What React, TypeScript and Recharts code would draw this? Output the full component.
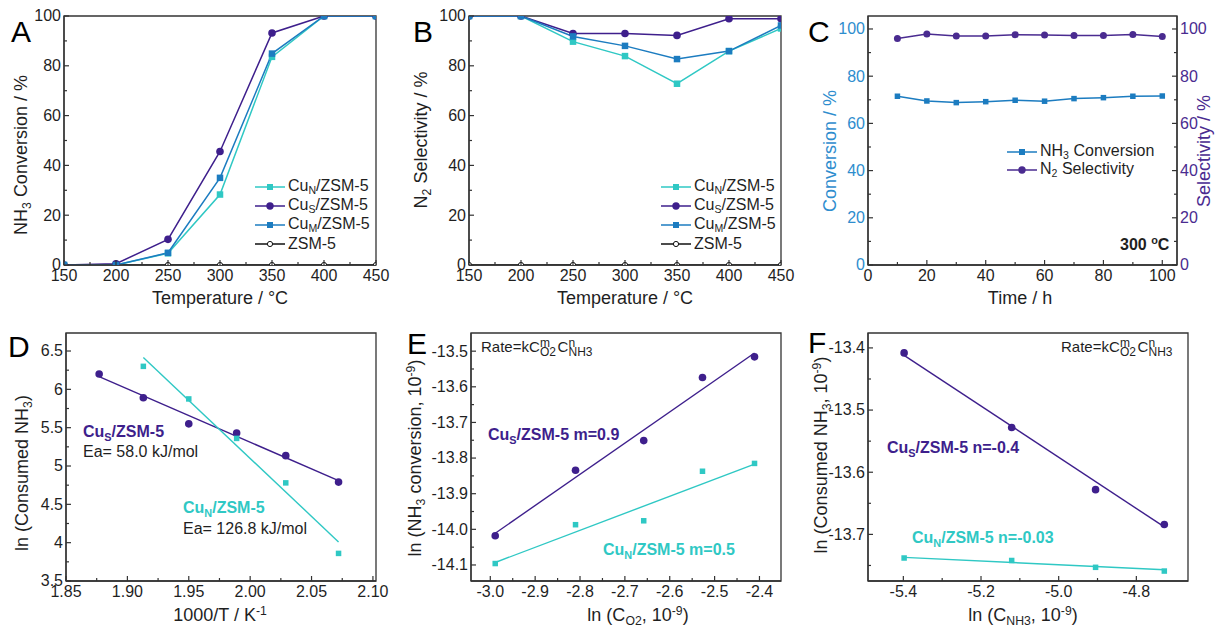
import React from "react";
import {
  LineChart,
  ComposedChart,
  Line,
  Scatter,
  XAxis,
  YAxis,
  ReferenceArea,
  Legend,
} from "recharts";

const FONT = '"Liberation Sans", Arial, Helvetica, sans-serif';
const INK = "#1f1f1f";
const AXIS = "#333333";
const TEAL = "#2FC8C4";
const PURPLE = "#3E1F8C";
const BLUE = "#1C7CC0";
const C_BLUE = "#2E8DCE";
const C_PURPLE = "#4A2B90";

// A / B: temperature sweep
const temperatures = [150, 200, 250, 300, 350, 400, 450];
const convCuN = [0, 0, 4.7, 28.3, 83.6, 100, 100];
const convCuS = [0, 0.5, 10.3, 45.6, 93.2, 100, 100];
const convCuM = [0, 0, 4.9, 35, 84.9, 100, 100];
const convZSM = [0, 0, 0, 0, 0, 0, 0];
const selCuN = [100, 100, 89.7, 83.9, 72.8, 85.9, 95.0];
const selCuS = [100, 100, 93.0, 93.0, 92.2, 98.9, 98.9];
const selCuM = [100, 100, 91.8, 88.0, 82.7, 85.9, 96.2];
const selZSM = [0, 0, 0, 0, 0, 0, 0];
const tempTicks = [150, 200, 250, 300, 350, 400, 450];
const pctTicks = [0, 20, 40, 60, 80, 100];

// C: stability test at 300 °C
const hours = [10, 20, 30, 40, 50, 60, 70, 80, 90, 100];
const stabConv = [71.5, 69.5, 68.8, 69.2, 69.8, 69.4, 70.5, 70.9, 71.5, 71.6];
const stabSel = [96.0, 97.9, 97.0, 97.0, 97.6, 97.5, 97.2, 97.2, 97.7, 96.8];
const hourTicks = [0, 20, 40, 60, 80, 100];

// D: Arrhenius plot
const invTCuS = [1.877, 1.913, 1.95, 1.989, 2.029, 2.072];
const lnCuS = [6.2, 5.89, 5.55, 5.43, 5.135, 4.79];
const invTCuN = [1.913, 1.95, 1.989, 2.029, 2.072];
const lnCuN = [6.3, 5.875, 5.36, 4.78, 3.86];
const fitInvTCuS = [1.877, 2.072];
const fitLnCuS = [6.165, 4.81];
const fitInvTCuN = [1.913, 2.072];
const fitLnCuN = [6.415, 4.01];
const invTTicks = [1.85, 1.9, 1.95, 2.0, 2.05, 2.1];
const lnTicks = [3.5, 4, 4.5, 5, 5.5, 6, 6.5];

// E: O2 reaction order
const lnO2 = [-2.989, -2.81, -2.658, -2.527, -2.411];
const o2CuS = [-14.018, -13.834, -13.751, -13.574, -13.516];
const o2CuN = [-14.096, -13.987, -13.976, -13.837, -13.815];
const o2FitX = [-2.989, -2.411];
const o2FitCuS = [-14.011, -13.505];
const o2FitCuN = [-14.093, -13.817];
const o2Ticks = [-3.0, -2.9, -2.8, -2.7, -2.6, -2.5, -2.4];
const o2RateTicks = [-14.1, -14.0, -13.9, -13.8, -13.7, -13.6, -13.5];

// F: NH3 reaction order
const lnNH3 = [-5.398, -5.121, -4.905, -4.728];
const nh3CuS = [-13.408, -13.528, -13.628, -13.684];
const nh3CuN = [-13.738, -13.742, -13.753, -13.759];
const nh3FitX = [-5.398, -4.728];
const nh3FitCuS = [-13.412, -13.688];
const nh3FitCuN = [-13.737, -13.757];
const nh3Ticks = [-5.4, -5.2, -5.0, -4.8];
const nh3RateTicks = [-13.7, -13.6, -13.5, -13.4];

const pts = (xs: number[], ys: number[]) => xs.map((x, i) => ({ x, y: ys[i] }));
const withMinors = (majors: number[]) => {
  const all = [...majors];
  for (let i = 0; i < majors.length - 1; i++) all.push((majors[i] + majors[i + 1]) / 2);
  return all.sort((a, b) => a - b);
};

type Part = string | { sub: string } | { sup: string };
const rich = (parts: Part[], size: number) => {
  let shift = 0;
  return parts.map((p, i) => {
    let target = 0;
    let text: string;
    let fs = size;
    if (typeof p === "string") text = p;
    else if ("sub" in p) {
      target = size * 0.24;
      text = p.sub;
      fs = size * 0.68;
    } else {
      target = -size * 0.36;
      text = p.sup;
      fs = size * 0.68;
    }
    const dy = target - shift;
    shift = target;
    return (
      <tspan key={i} dy={dy} fontSize={fs}>
        {text}
      </tspan>
    );
  });
};

// axis title, drawn at fixed coordinates inside the chart svg
const title = (x: number, y: number, parts: Part[], rotate = false, color = INK) => () =>
  (
    <text
      x={x}
      y={y}
      textAnchor="middle"
      fontSize={18}
      fill={color}
      fontFamily={FONT}
      transform={rotate ? `rotate(-90 ${x} ${y})` : undefined}
    >
      {rich(parts, 18)}
    </text>
  );

// inward tick marks, labels only on the major values
const tickFn =
  (side: "left" | "right" | "bottom", majors: number[], fmt: (v: number) => string, color = INK) =>
  (props: any) => {
    const { x, y, payload } = props;
    const v = Number(payload.value);
    const major = majors.some((m) => Math.abs(m - v) < 1e-6);
    const len = major ? 5 : 3;
    if (side === "bottom") {
      return (
        <g>
          <line x1={x} x2={x} y1={y} y2={y - len} stroke={AXIS} strokeWidth={1.2} />
          {major && (
            <text x={x} y={y + 16} textAnchor="middle" fontSize={16} fill={color} fontFamily={FONT}>
              {fmt(v)}
            </text>
          )}
        </g>
      );
    }
    const dir = side === "left" ? 1 : -1;
    return (
      <g>
        <line x1={x} x2={x + dir * len} y1={y} y2={y} stroke={AXIS} strokeWidth={1.2} />
        {major && (
          <text
            x={x - dir * 3}
            y={y + 5.4}
            textAnchor={side === "left" ? "end" : "start"}
            fontSize={16}
            fill={color}
            fontFamily={FONT}
          >
            {fmt(v)}
          </text>
        )}
      </g>
    );
  };

const squareDot = (color: string, s: number) => (p: any) =>
  <rect key={`s${p.index}`} x={p.cx - s / 2} y={p.cy - s / 2} width={s} height={s} fill={color} />;
const circleDot = (color: string, r: number) => (p: any) =>
  <circle key={`c${p.index}`} cx={p.cx} cy={p.cy} r={r} fill={color} />;
const openDot = (p: any) => (
  <circle key={`o${p.index}`} cx={p.cx} cy={p.cy} r={2.6} fill="#fff" stroke="#111" strokeWidth={1} />
);

const axisBase = {
  type: "number" as const,
  axisLine: { stroke: AXIS, strokeWidth: 1.3 },
  tickLine: false,
  tickSize: 0,
  tickMargin: 0,
  interval: 0 as const,
  allowDataOverflow: true,
};
const frame = { fill: "none", fillOpacity: 0, stroke: AXIS, strokeWidth: 1.3, ifOverflow: "visible" as const };

const Sub = ({ children }: { children: React.ReactNode }) => (
  <span style={{ fontSize: "0.66em", verticalAlign: "-0.28em" }}>{children}</span>
);

const legendMeta: Record<string, { color: string; line: string; mark: string; label: React.ReactNode }> = {
  cuN: { color: TEAL, line: TEAL, mark: "square", label: <>Cu<Sub>N</Sub>/ZSM-5</> },
  cuS: { color: PURPLE, line: PURPLE, mark: "circle", label: <>Cu<Sub>S</Sub>/ZSM-5</> },
  cuM: { color: BLUE, line: BLUE, mark: "square", label: <>Cu<Sub>M</Sub>/ZSM-5</> },
  zsm: { color: "#111", line: "#111", mark: "open", label: <>ZSM-5</> },
  conv: { color: BLUE, line: BLUE, mark: "square", label: <>NH<Sub>3</Sub> Conversion</> },
  sel: { color: C_PURPLE, line: C_PURPLE, mark: "circle", label: <>N<Sub>2</Sub> Selectivity</> },
};

const legendContent = (order: string[], rowH: number) => (props: any) => {
  const items = [...(props.payload || [])]
    .filter((it: any) => order.includes(it.dataKey))
    .sort((a: any, b: any) => order.indexOf(a.dataKey) - order.indexOf(b.dataKey));
  return (
    <div style={{ fontFamily: FONT, fontSize: 16, color: INK }}>
      {items.map((it: any) => {
        const m = legendMeta[it.dataKey];
        return (
          <div key={it.dataKey} style={{ display: "flex", alignItems: "center", height: rowH, whiteSpace: "nowrap" }}>
            <svg width={30} height={12} style={{ flex: "none" }}>
              <line x1={0} x2={30} y1={6} y2={6} stroke={m.line} strokeWidth={1.5} />
              {m.mark === "square" && <rect x={12} y={3} width={6} height={6} fill={m.color} />}
              {m.mark === "circle" && <circle cx={15} cy={6} r={3.7} fill={m.color} />}
              {m.mark === "open" && <circle cx={15} cy={6} r={2.6} fill="#fff" stroke="#111" strokeWidth={1} />}
            </svg>
            <span style={{ marginLeft: 3, lineHeight: 1 }}>{m.label}</span>
          </div>
        );
      })}
    </div>
  );
};

const rowsA = temperatures.map((t, i) => ({ t, cuN: convCuN[i], cuS: convCuS[i], cuM: convCuM[i], zsm: convZSM[i] }));
const rowsB = temperatures.map((t, i) => ({ t, cuN: selCuN[i], cuS: selCuS[i], cuM: selCuM[i], zsm: selZSM[i] }));
const rowsC = hours.map((h, i) => ({ h, conv: stabConv[i], sel: stabSel[i] }));

function TempPanel({ rows, left, yWidth, yTitle, titleY, legendLeft }: any) {
  const w = left === 0 ? 400 : 410;
  return (
    <div style={{ position: "absolute", left, top: 0 }}>
      <LineChart width={w} height={310} data={rows} margin={{ top: 16, right: w - 312 - yWidth, bottom: 0, left: 0 }}>
        <XAxis
          dataKey="t"
          {...axisBase}
          domain={[150, 450]}
          ticks={withMinors(tempTicks)}
          height={45}
          tick={tickFn("bottom", tempTicks, String)}
          label={title(yWidth + 156, 304, ["Temperature / °C"])}
        />
        <YAxis
          {...axisBase}
          domain={[0, 100]}
          ticks={withMinors(pctTicks)}
          width={yWidth}
          tick={tickFn("left", pctTicks, String)}
          label={title(27, titleY, yTitle, true)}
        />
        <ReferenceArea x1={150} x2={450} y1={0} y2={100} {...frame} />
        <Line dataKey="zsm" name="ZSM-5" stroke="#111" strokeWidth={1.2} dot={openDot} isAnimationActive={false} />
        <Line dataKey="cuN" name="CuN/ZSM-5" stroke={TEAL} strokeWidth={1.5} dot={squareDot(TEAL, 6.5)} isAnimationActive={false} />
        <Line dataKey="cuS" name="CuS/ZSM-5" stroke={PURPLE} strokeWidth={1.5} dot={circleDot(PURPLE, 3.8)} isAnimationActive={false} />
        <Line dataKey="cuM" name="CuM/ZSM-5" stroke={BLUE} strokeWidth={1.5} dot={squareDot(BLUE, 6.5)} isAnimationActive={false} />
        <Legend
          layout="vertical"
          align="center"
          verticalAlign="middle"
          wrapperStyle={{ left: legendLeft, top: 177, width: "auto" }}
          content={legendContent(["cuN", "cuS", "cuM", "zsm"], 19)}
        />
      </LineChart>
    </div>
  );
}

function PanelC() {
  return (
    <div style={{ position: "absolute", left: 810, top: 0 }}>
      <LineChart width={408} height={310} data={rowsC} margin={{ top: 16, right: 0, bottom: 0, left: 0 }}>
        <XAxis
          dataKey="h"
          {...axisBase}
          domain={[0, 105]}
          ticks={withMinors(hourTicks)}
          height={45}
          tick={tickFn("bottom", hourTicks, String)}
          label={title(210, 304, ["Time / h"])}
        />
        <YAxis
          yAxisId="conv"
          {...axisBase}
          domain={[0, 105.5]}
          ticks={withMinors(pctTicks)}
          width={58}
          tick={tickFn("left", pctTicks, String, C_BLUE)}
          label={title(26, 151, ["Conversion / %"], true, C_BLUE)}
        />
        <YAxis
          yAxisId="sel"
          orientation="right"
          {...axisBase}
          domain={[0, 105.5]}
          ticks={withMinors(pctTicks)}
          width={41}
          tick={tickFn("right", pctTicks, String, C_PURPLE)}
          label={title(400, 151, ["Selectivity / %"], true, C_PURPLE)}
        />
        <ReferenceArea yAxisId="conv" x1={0} x2={105} y1={0} y2={105.5} {...frame} />
        <Line yAxisId="conv" dataKey="conv" name="NH3 Conversion" stroke={BLUE} strokeWidth={1.5} dot={squareDot(BLUE, 5.5)} isAnimationActive={false} />
        <Line yAxisId="sel" dataKey="sel" name="N2 Selectivity" stroke={C_PURPLE} strokeWidth={1.5} dot={circleDot(C_PURPLE, 3.5)} isAnimationActive={false} />
        <Legend
          layout="vertical"
          align="center"
          verticalAlign="middle"
          wrapperStyle={{ left: 197, top: 143, width: "auto" }}
          content={legendContent(["conv", "sel"], 18)}
        />
      </LineChart>
    </div>
  );
}

function FitPanel(p: any) {
  return (
    <div style={{ position: "absolute", left: p.left, top: 310 }}>
      <ComposedChart width={p.width} height={317} margin={{ top: 23, right: p.right, bottom: 0, left: 0 }}>
        <XAxis
          dataKey="x"
          {...axisBase}
          domain={p.xDomain}
          ticks={withMinors(p.xTicks)}
          height={46}
          tick={tickFn("bottom", p.xTicks, p.xFmt)}
          label={title(p.xTitleX, 311, p.xTitle)}
        />
        <YAxis
          dataKey="y"
          {...axisBase}
          domain={p.yDomain}
          ticks={p.yMinor}
          width={p.yWidth}
          tick={tickFn("left", p.yTicks, p.yFmt)}
          label={title(p.yTitleX, p.yTitleY, p.yTitle, true)}
        />
        <ReferenceArea x1={p.xDomain[0]} x2={p.xDomain[1]} y1={p.yDomain[0]} y2={p.yDomain[1]} {...frame} />
        <Line data={p.fitS} dataKey="y" stroke={PURPLE} strokeWidth={1.4} dot={false} isAnimationActive={false} />
        <Line data={p.fitN} dataKey="y" stroke={TEAL} strokeWidth={1.4} dot={false} isAnimationActive={false} />
        <Scatter data={p.ptsS} dataKey="y" fill={PURPLE} shape={circleDot(PURPLE, 3.8)} isAnimationActive={false} />
        <Scatter data={p.ptsN} dataKey="y" fill={TEAL} shape={squareDot(TEAL, 5.5)} isAnimationActive={false} />
      </ComposedChart>
    </div>
  );
}

const Label = ({ x, y, parts, color = INK, bold = false, size = 16 }: any) => (
  <text x={x} y={y} fill={color} fontSize={size} fontWeight={bold ? "bold" : "normal"}>
    {rich(parts, size)}
  </text>
);

const RateLaw = ({ x, y }: { x: number; y: number }) => (
  <text fill={INK} fontSize={15}>
    <tspan x={x} y={y}>Rate=kC</tspan>
    <tspan x={x + 59} y={y - 5} fontSize={12}>m</tspan>
    <tspan x={x + 59} y={y + 3.5} fontSize={12}>O2</tspan>
    <tspan x={x + 76.5} y={y}>C</tspan>
    <tspan x={x + 87.5} y={y - 5} fontSize={12}>n</tspan>
    <tspan x={x + 87.5} y={y + 3.5} fontSize={12}>NH3</tspan>
  </text>
);

function Overlay() {
  return (
    <svg
      width={1218}
      height={627}
      style={{ position: "absolute", left: 0, top: 0, pointerEvents: "none" }}
      fontFamily={FONT}
    >
      <text x={11} y={42} fontSize={30} fill="#000">A</text>
      <text x={413} y={42} fontSize={30} fill="#000">B</text>
      <text x={808} y={42} fontSize={30} fill="#000">C</text>
      <text x={8} y={357} fontSize={30} fill="#000">D</text>
      <text x={407} y={354} fontSize={30} fill="#000">E</text>
      <text x={808} y={353} fontSize={30} fill="#000">F</text>

      <Label x={1120} y={250} bold parts={["300 ", { sup: "o" }, "C"]} />

      <Label x={83} y={437} bold color={PURPLE} parts={["Cu", { sub: "S" }, "/ZSM-5"]} />
      <Label x={83} y={457} parts={["Ea= 58.0 kJ/mol"]} />
      <Label x={183} y={513} bold color={TEAL} parts={["Cu", { sub: "N" }, "/ZSM-5"]} />
      <Label x={183} y={534} parts={["Ea= 126.8 kJ/mol"]} />

      <RateLaw x={481} y={352} />
      <Label x={488} y={440} bold color={PURPLE} parts={["Cu", { sub: "S" }, "/ZSM-5 m=0.9"]} />
      <Label x={603} y={555} bold color={TEAL} parts={["Cu", { sub: "N" }, "/ZSM-5 m=0.5"]} />

      <RateLaw x={1061} y={352} />
      <Label x={887} y={453} bold color={PURPLE} parts={["Cu", { sub: "S" }, "/ZSM-5 n=-0.4"]} />
      <Label x={912} y={543} bold color={TEAL} parts={["Cu", { sub: "N" }, "/ZSM-5 n=-0.03"]} />
    </svg>
  );
}

export default function App() {
  return (
    <div
      style={{
        position: "absolute",
        left: 0,
        top: 0,
        width: 1218,
        height: 627,
        background: "#fff",
        fontFamily: FONT,
        overflow: "hidden",
      }}
    >
      <TempPanel rows={rowsA} left={0} yWidth={64} titleY={155} legendLeft={255} yTitle={["NH", { sub: "3" }, " Conversion / %"]} />
      <TempPanel rows={rowsB} left={400} yWidth={69} titleY={140} legendLeft={261} yTitle={["N", { sub: "2" }, " Selectivity / %"]} />
      <PanelC />
      <FitPanel
        left={0}
        width={400}
        right={24}
        yWidth={66}
        xDomain={[1.85, 2.1025]}
        yDomain={[3.5, 6.735]}
        xTicks={invTTicks}
        yTicks={lnTicks}
        yMinor={withMinors(lnTicks)}
        xFmt={(v: number) => v.toFixed(2)}
        yFmt={(v: number) => String(v)}
        xTitleX={220}
        xTitle={["1000/T / K", { sup: "-1" }]}
        yTitleX={28}
        yTitleY={163}
        yTitle={["ln (Consumed NH", { sub: "3" }, ")"]}
        fitS={pts(fitInvTCuS, fitLnCuS)}
        fitN={pts(fitInvTCuN, fitLnCuN)}
        ptsS={pts(invTCuS, lnCuS)}
        ptsN={pts(invTCuN, lnCuN)}
      />
      <FitPanel
        left={400}
        width={410}
        right={29}
        yWidth={71}
        xDomain={[-3.043, -2.352]}
        yDomain={[-14.145, -13.449]}
        xTicks={o2Ticks}
        yTicks={o2RateTicks}
        yMinor={withMinors(o2RateTicks)}
        xFmt={(v: number) => v.toFixed(1)}
        yFmt={(v: number) => v.toFixed(1)}
        xTitleX={238}
        xTitle={["ln (C", { sub: "O2" }, ", 10", { sup: "-9" }, ")"]}
        yTitleX={21}
        yTitleY={148}
        yTitle={["ln (NH", { sub: "3" }, " conversion, 10", { sup: "-9" }, ")"]}
        fitS={pts(o2FitX, o2FitCuS)}
        fitN={pts(o2FitX, o2FitCuN)}
        ptsS={pts(lnO2, o2CuS)}
        ptsN={pts(lnO2, o2CuN)}
      />
      <FitPanel
        left={810}
        width={408}
        right={30}
        yWidth={58}
        xDomain={[-5.491, -4.667]}
        yDomain={[-13.775, -13.376]}
        xTicks={nh3Ticks}
        yTicks={nh3RateTicks}
        yMinor={[...withMinors(nh3RateTicks), -13.75].sort((a, b) => a - b)}
        xFmt={(v: number) => v.toFixed(1)}
        yFmt={(v: number) => v.toFixed(1)}
        xTitleX={213}
        xTitle={["ln (C", { sub: "NH3" }, ", 10", { sup: "-9" }, ")"]}
        yTitleX={17}
        yTitleY={145}
        yTitle={["ln (Consumed NH", { sub: "3" }, ", 10", { sup: "-9" }, ")"]}
        fitS={pts(nh3FitX, nh3FitCuS)}
        fitN={pts(nh3FitX, nh3FitCuN)}
        ptsS={pts(lnNH3, nh3CuS)}
        ptsN={pts(lnNH3, nh3CuN)}
      />
      <Overlay />
    </div>
  );
}
